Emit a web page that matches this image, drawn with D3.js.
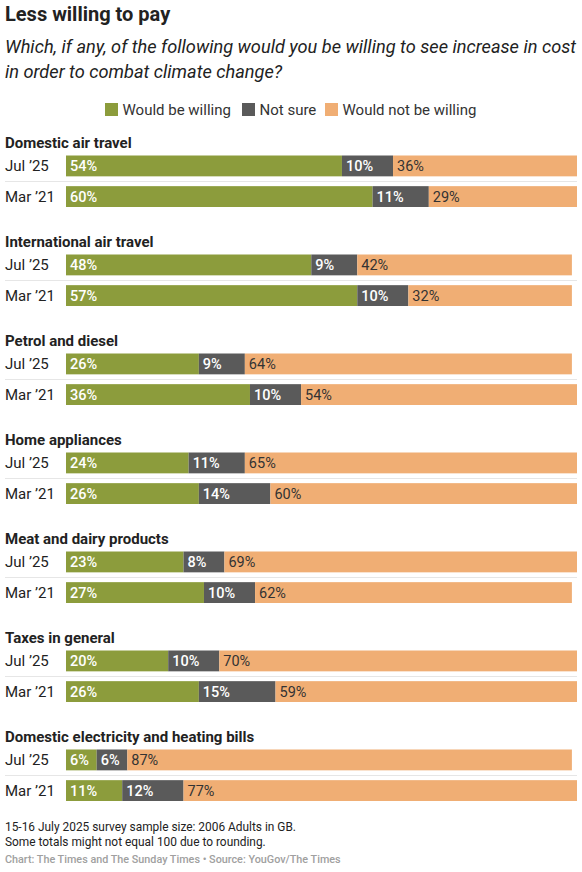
<!DOCTYPE html>
<html>
<head>
<meta charset="utf-8">
<script src="https://cdn.jsdelivr.net/npm/d3@7"></script>
<style>
  body { margin: 0; background: #fff; font-family: Roboto, "Noto Sans", sans-serif; }
  svg text { font-family: Roboto, "Noto Sans", sans-serif; }
</style>
</head>
<body>
<svg width="582" height="872"></svg>
<script>
var categories = ["Domestic air travel", "International air travel", "Petrol and diesel",
  "Home appliances", "Meat and dairy products", "Taxes in general",
  "Domestic electricity and heating bills"];
var periods = ["Jul \u201925", "Mar \u201921"];
var series = ["Would be willing", "Not sure", "Would not be willing"];
// [Jul '25, Mar '21] per category
var willing = [[54, 60], [48, 57], [26, 36], [24, 26], [23, 27], [20, 26], [6, 11]];
var notSure = [[10, 11], [9, 10], [9, 10], [11, 14], [8, 10], [10, 15], [6, 12]];
var notWilling = [[36, 29], [42, 32], [64, 54], [65, 60], [69, 62], [70, 59], [87, 77]];

var colors = ["#8c9c3c", "#5a5a5a", "#f0ae74"];
var textColors = ["#fff", "#fff", "#333"];
var textWeights = [500, 500, 400];

var svg = d3.select("svg");

svg.append("text").attr("x", 5).attr("y", 21)
  .attr("font-size", 20).attr("font-weight", 700).attr("fill", "#222")
  .text("Less willing to pay");

var sub = ["Which, if any, of the following would you be willing to see increase in cost",
  "in order to combat climate change?"];
svg.selectAll(".sub").data(sub).enter().append("text")
  .attr("x", 5).attr("y", function(d, i) { return 53 + i * 24.5; })
  .attr("font-size", 18.2).attr("font-style", "italic").attr("fill", "#222")
  .text(function(d) { return d; });

// legend
var legendX = [105, 242, 325];
var lg = svg.selectAll(".lg").data(series).enter().append("g")
  .attr("transform", function(d, i) { return "translate(" + legendX[i] + ",103)"; });
lg.append("rect").attr("width", 13).attr("height", 13)
  .attr("fill", function(d, i) { return colors[i]; });
lg.append("text").attr("x", 17.5).attr("y", 12)
  .attr("font-size", 15).attr("fill", "#333")
  .text(function(d) { return d; });

var x = d3.scaleLinear().domain([0, 100]).range([66, 577]);
var groupY = d3.scaleBand().domain(d3.range(categories.length)).range([128, 821]);
var rowY = d3.scaleBand().domain(d3.range(periods.length)).range([155.5, 207]).paddingInner(0.32);

var groups = svg.selectAll(".grp").data(categories).enter().append("g")
  .attr("transform", function(d, i) { return "translate(0," + (groupY(i) - 128) + ")"; });

groups.append("text").attr("x", 5).attr("y", 147.5)
  .attr("font-size", 15).attr("font-weight", 700).attr("fill", "#222")
  .text(function(d) { return d; });

groups.append("line").attr("x1", 5).attr("x2", 577)
  .attr("y1", 181.5).attr("y2", 181.5)
  .attr("stroke", "#e6e6e6").attr("stroke-width", 1);

groups.each(function(cat, ci) {
  var g = d3.select(this);
  periods.forEach(function(p, pi) {
    var vals = [willing[ci][pi], notSure[ci][pi], notWilling[ci][pi]];
    var y0 = rowY(pi), h = rowY.bandwidth();
    g.append("text").attr("x", 5).attr("y", y0 + h / 2 + 5.5)
      .attr("font-size", 15).attr("fill", "#222").text(p);
    var start = 0;
    vals.forEach(function(v, si) {
      g.append("rect").attr("x", x(start)).attr("y", y0)
        .attr("width", x(start + v) - x(start)).attr("height", h)
        .attr("fill", colors[si]);
      g.append("text").attr("x", x(start) + 4).attr("y", y0 + h / 2 + 5.2)
        .attr("font-size", 14.5).attr("font-weight", textWeights[si]).attr("fill", textColors[si])
        .text(v + "%");
      start += v;
    });
  });
});

var notes = ["15-16 July 2025 survey sample size: 2006 Adults in GB.",
  "Some totals might not equal 100 due to rounding."];
svg.selectAll(".note").data(notes).enter().append("text")
  .attr("x", 5).attr("y", function(d, i) { return 831 + i * 14.5; })
  .attr("font-size", 11.9).attr("fill", "#222")
  .text(function(d) { return d; });

svg.append("text").attr("x", 5).attr("y", 863)
  .attr("font-size", 10.8).attr("font-weight", 500).attr("fill", "#a0a0a0")
  .text("Chart: The Times and The Sunday Times \u2022 Source: YouGov/The Times");
</script>
</body>
</html>
